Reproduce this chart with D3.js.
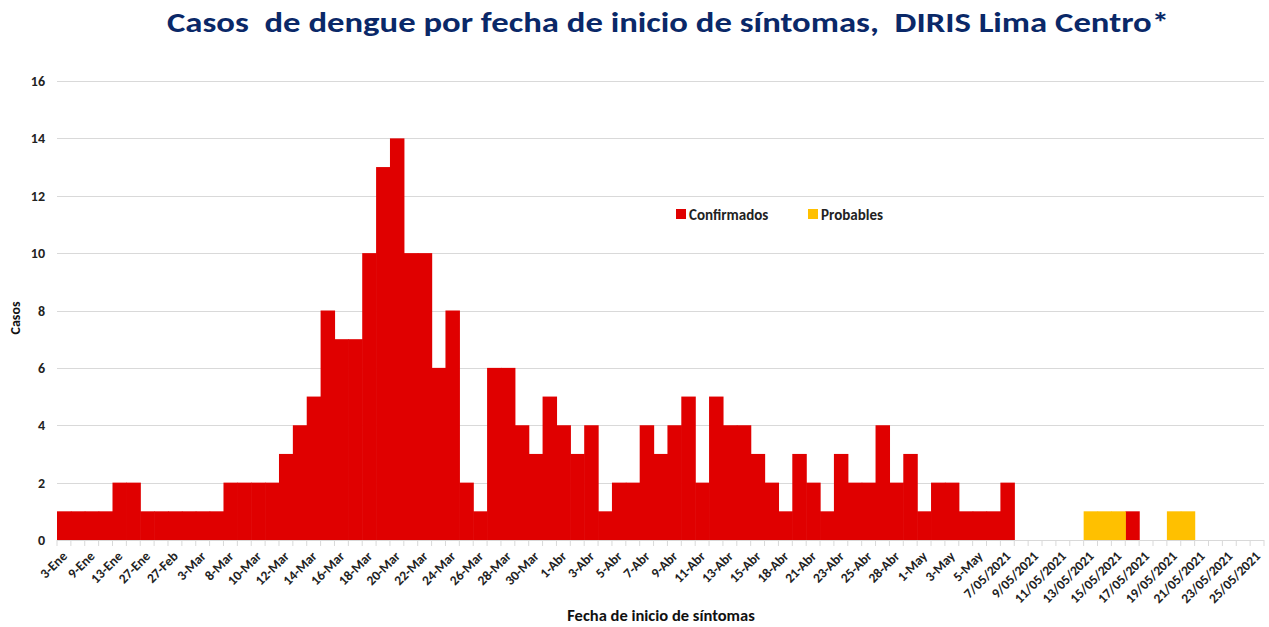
<!DOCTYPE html>
<html>
<head>
<meta charset="utf-8">
<script src="https://cdn.jsdelivr.net/npm/d3@7"></script>
<style>
  body { margin: 0; background: #fff; }
  text { font-family: Carlito, "Liberation Sans", Arial, sans-serif; }
</style>
</head>
<body>
<svg id="chart" width="1269" height="627"></svg>
<script>
// categories (only even ones are labelled on the axis)
const categories = [
  "3-Ene", "5-Ene", "9-Ene", "11-Ene", "13-Ene", "20-Ene", "27-Ene", "15-Feb", "27-Feb", "1-Mar",
  "3-Mar", "5-Mar", "8-Mar", "9-Mar", "10-Mar", "11-Mar", "12-Mar", "13-Mar", "14-Mar", "15-Mar",
  "16-Mar", "17-Mar", "18-Mar", "19-Mar", "20-Mar", "21-Mar", "22-Mar", "23-Mar", "24-Mar", "25-Mar",
  "26-Mar", "27-Mar", "28-Mar", "29-Mar", "30-Mar", "31-Mar", "1-Abr", "2-Abr", "3-Abr", "4-Abr",
  "5-Abr", "6-Abr", "7-Abr", "8-Abr", "9-Abr", "10-Abr", "11-Abr", "12-Abr", "13-Abr", "14-Abr",
  "15-Abr", "16-Abr", "18-Abr", "20-Abr", "21-Abr", "22-Abr", "23-Abr", "24-Abr", "25-Abr", "26-Abr",
  "28-Abr", "30-Abr", "1-May", "2-May", "3-May", "4-May", "5-May", "6-May", "7/05/2021",
  "8/05/2021", "9/05/2021", "10/05/2021", "11/05/2021", "12/05/2021", "13/05/2021", "14/05/2021",
  "15/05/2021", "16/05/2021", "17/05/2021", "18/05/2021", "19/05/2021", "20/05/2021", "21/05/2021",
  "22/05/2021", "23/05/2021", "24/05/2021", "25/05/2021"
];

const confirmados = [
  1, 1, 1, 1, 2, 2, 1, 1, 1, 1,
  1, 1, 2, 2, 2, 2, 3, 4, 5, 8,
  7, 7, 10, 13, 14, 10, 10, 6, 8, 2,
  1, 6, 6, 4, 3, 5, 4, 3, 4, 1,
  2, 2, 4, 3, 4, 5, 2, 5, 4, 4,
  3, 2, 1, 3, 2, 1, 3, 2, 2, 4,
  2, 3, 1, 2, 2, 1, 1, 1, 2,
  0, 0, 0, 0, 0, 0, 0,
  0, 1, 0, 0, 0, 0, 0,
  0, 0, 0, 0
];

const probables = [
  0, 0, 0, 0, 0, 0, 0, 0, 0, 0,
  0, 0, 0, 0, 0, 0, 0, 0, 0, 0,
  0, 0, 0, 0, 0, 0, 0, 0, 0, 0,
  0, 0, 0, 0, 0, 0, 0, 0, 0, 0,
  0, 0, 0, 0, 0, 0, 0, 0, 0, 0,
  0, 0, 0, 0, 0, 0, 0, 0, 0, 0,
  0, 0, 0, 0, 0, 0, 0, 0, 0,
  0, 0, 0, 0, 0, 1, 1,
  1, 0, 0, 0, 1, 1, 0,
  0, 0, 0, 0
];

const yTicks = [0, 2, 4, 6, 8, 10, 12, 14, 16];

const red = "#e00000";
const yellow = "#ffc000";

const svg = d3.select("#chart");

const x = d3.scaleBand()
  .domain(categories)
  .range([57, 1264])
  .padding(0);

const y = d3.scaleLinear()
  .domain([0, 16])
  .range([540, 81]);

// title
svg.append("text")
  .attr("x", 668)
  .attr("y", 32)
  .attr("text-anchor", "middle")
  .attr("font-size", 28)
  .attr("font-weight", "bold")
  .attr("fill", "#0a2868")
  .attr("textLength", 1002)
  .attr("lengthAdjust", "spacingAndGlyphs")
  .style("white-space", "pre")
  .text("Casos  de dengue por fecha de inicio de síntomas,  DIRIS Lima Centro*");

// gridlines
svg.append("g")
  .selectAll("line")
  .data(yTicks.filter(d => d > 0))
  .enter().append("line")
  .attr("x1", 57)
  .attr("x2", 1264)
  .attr("y1", d => Math.round(y(d)) + 0.5)
  .attr("y2", d => Math.round(y(d)) + 0.5)
  .style("stroke", "#d9d9d9")
  .style("stroke-width", 1.2);

// y axis labels
svg.append("g")
  .selectAll("text")
  .data(yTicks)
  .enter().append("text")
  .attr("x", 45)
  .attr("y", d => y(d) + 5)
  .attr("text-anchor", "end")
  .attr("font-size", 14)
  .attr("font-weight", "bold")
  .attr("fill", "#222")
  .text(d => d);

// stacked bars
const rows = categories.map((c, i) => ({ cat: c, confirmados: confirmados[i], probables: probables[i] }));
const stack = d3.stack().keys(["confirmados", "probables"])(rows);
const colorOf = { confirmados: red, probables: yellow };

svg.append("g")
  .selectAll("g")
  .data(stack)
  .enter().append("g")
  .attr("fill", d => colorOf[d.key])
  .selectAll("rect")
  .data(d => d.filter(p => p[1] > p[0]))
  .enter().append("rect")
  .attr("x", d => x(d.data.cat))
  .attr("width", x.bandwidth() + 0.6)
  .attr("y", d => y(d[1]))
  .attr("height", d => y(d[0]) - y(d[1]));

// x axis line and tick marks
const xAxis = svg.append("g");
xAxis.append("line")
  .attr("x1", 57).attr("x2", 1264)
  .attr("y1", 540.5).attr("y2", 540.5)
  .style("stroke", "#d9d9d9");

xAxis.selectAll(".tick")
  .data(categories.concat([null]))
  .enter().append("line")
  .attr("x1", (d, i) => 57 + i * x.step())
  .attr("x2", (d, i) => 57 + i * x.step())
  .attr("y1", 540)
  .attr("y2", 546)
  .style("stroke", "#d9d9d9");

// x labels, every other category
xAxis.selectAll(".xl")
  .data(categories.filter((c, i) => i % 2 === 0))
  .enter().append("text")
  .attr("text-anchor", "end")
  .attr("font-size", 13.5)
  .attr("font-weight", "bold")
  .attr("fill", "#222")
  .attr("transform", d => `translate(${x(d) + x.bandwidth() / 2 + 4},${557}) rotate(-45)`)
  .text(d => d);

// axis titles
svg.append("text")
  .attr("transform", "translate(20,318) rotate(-90)")
  .attr("text-anchor", "middle")
  .attr("font-size", 14)
  .attr("font-weight", "bold")
  .attr("fill", "#111")
  .text("Casos");

svg.append("text")
  .attr("x", 661)
  .attr("y", 621)
  .attr("text-anchor", "middle")
  .attr("font-size", 16.5)
  .attr("font-weight", "bold")
  .attr("fill", "#111")
  .text("Fecha de inicio de síntomas");

// legend
const legend = svg.append("g");
const items = [
  { name: "Confirmados", color: red, x: 676 },
  { name: "Probables", color: yellow, x: 808 }
];
const li = legend.selectAll("g")
  .data(items)
  .enter().append("g")
  .attr("transform", d => `translate(${d.x},209)`);
li.append("rect")
  .attr("width", 10)
  .attr("height", 10)
  .attr("fill", d => d.color);
li.append("text")
  .attr("x", 13)
  .attr("y", 10.5)
  .attr("font-size", 15)
  .attr("font-weight", "bold")
  .attr("fill", "#222")
  .text(d => d.name);
</script>
</body>
</html>
